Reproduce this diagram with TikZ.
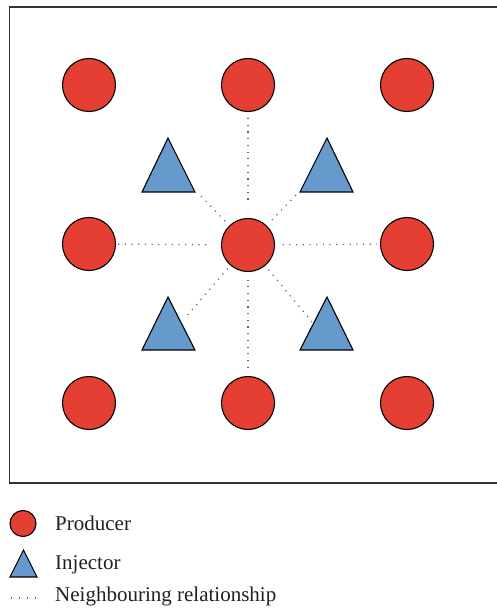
\documentclass[tikz,border=0pt]{standalone}
\usepackage{fontspec}
\setmainfont{Liberation Serif}
\definecolor{prodred}{HTML}{E53E33}
\definecolor{injblue}{HTML}{6699CC}
\definecolor{framegray}{HTML}{333333}
\definecolor{txtgray}{HTML}{231F20}
\begin{document}
\begin{tikzpicture}[x=1pt,y=-1pt,
  producer/.style={circle,draw=black,fill=prodred,line width=1.1pt,minimum size=53pt,inner sep=0pt},
  lproducer/.style={circle,draw=black,fill=prodred,line width=1.1pt,minimum size=26pt,inner sep=0pt},
  injector/.style={draw=black,fill=injblue,line width=1.1pt,line join=miter},
  nb/.style={draw=black!60,line width=1.2pt,dash pattern=on 1.2pt off 5.5pt},
  legtext/.style={anchor=base west,inner sep=0pt,font=\fontsize{21}{24}\selectfont,text=txtgray}]
\useasboundingbox (0,0) rectangle (497,612);
% frame
\begin{scope}
\clip (0,0) rectangle (497,612);
\draw[framegray,line width=1.2pt] (9.5,7) rectangle (500,483);
\end{scope}
% producers
\node[producer] (p11) at (89,85) {};
\node[producer] (p12) at (248,85) {};
\node[producer] (p13) at (407,85) {};
\node[producer] (p21) at (89,244) {};
\node[producer] (c)   at (248,245) {};
\node[producer] (p23) at (407,244) {};
\node[producer] (p31) at (89,403) {};
\node[producer] (p32) at (248,403) {};
\node[producer] (p33) at (407,403) {};
% injectors
\draw[injector] (168,138) -- (195,192) -- (142,192) -- cycle;
\draw[injector] (327,138) -- (353,192) -- (300,192) -- cycle;
\draw[injector] (168,297) -- (195,350) -- (142,350) -- cycle;
\draw[injector] (327,297) -- (353,350) -- (300,350) -- cycle;
\coordinate (e1) at (198,193);
\coordinate (e2) at (296,195);
\coordinate (e3) at (185,318);
\coordinate (e4) at (312,322);
% neighbouring relationships
\draw[nb,shorten <=6pt,shorten >=16pt] (p12) -- (c);
\draw[nb,shorten <=7.5pt,shorten >=3pt] (c) -- (p32);
\draw[nb,shorten <=2pt,shorten >=9.5pt] (p21) -- (c);
\draw[nb,shorten <=7.5pt,shorten >=3pt] (c) -- (p23);
\draw[nb,shorten <=6pt] (c) -- (e1);
\draw[nb,shorten <=7.5pt] (c) -- (e2);
\draw[nb,shorten <=4pt] (c) -- (e3);
\draw[nb,shorten <=5pt] (c) -- (e4);
% legend
\node[lproducer] (lp) at (23,523.5) {};
\draw[injector] (23.5,550) -- (37,577) -- (10,577) -- cycle;
\coordinate (ld1) at (11,598);
\coordinate (ld2) at (37,598);
\draw[nb,line width=1.1pt,dash pattern=on 1.1pt off 6.8pt] (ld1) -- (ld2);
\node[legtext] (lt1) at (55,530) {Producer};
\node[legtext] (lt2) at (55,569) {Injector};
\node[legtext] (lt3) at (55,601) {Neighbouring relationship};
\end{tikzpicture}
\end{document}
